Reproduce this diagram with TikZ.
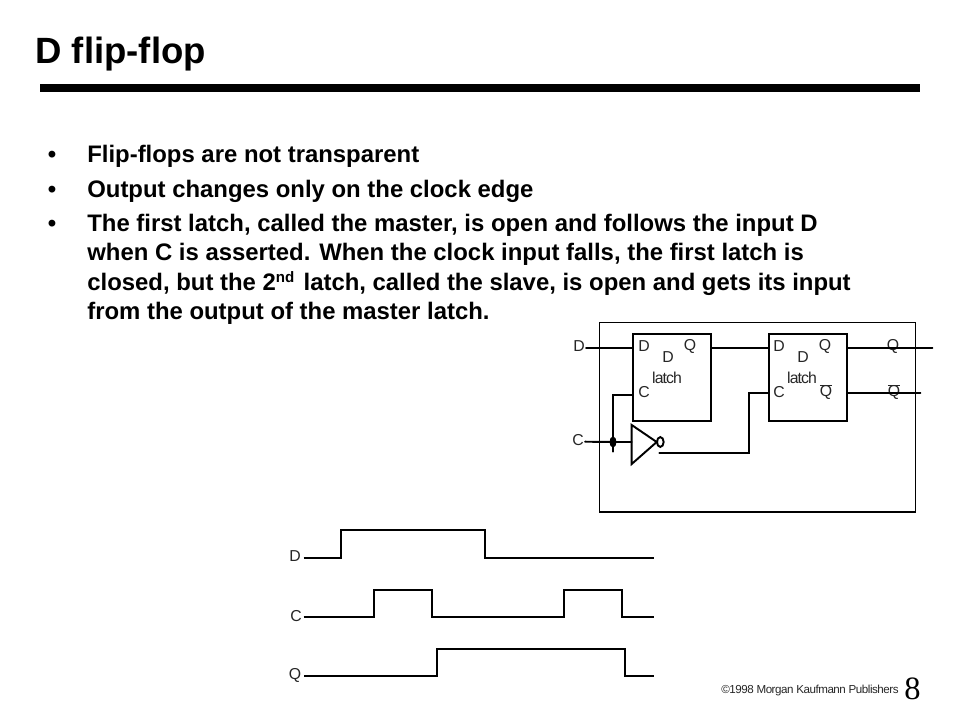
\documentclass[tikz,border=0pt]{standalone}
\usepackage{fontspec}
\setmainfont{Liberation Sans}
\newfontfamily\pagefont{Liberation Serif}
\usetikzlibrary{positioning, calc}
\usetikzlibrary{shapes.geometric}
\newcommand{\barQ}{\makebox[0pt][l]{\rule[6pt]{0.75em}{0.5pt}}Q}
\tikzset{
    wire/.style = {line width = 1.1pt, line cap = round},
    wave/.style = {line width = 1.1pt, line join = miter},
    bodyline/.style = {anchor = base west, inner sep = 0pt, font = \fontsize{13.6}{16}\selectfont\bfseries},
    bulletmark/.style = {anchor = base, inner sep = 0pt, font = \fontsize{13.6}{16}\selectfont\bfseries},
    pinlabel/.style = {inner sep = 0pt, font = \fontsize{9}{10}\selectfont, text = black!85},
    latchbox/.style = {draw, line width = 1.1pt, minimum width = 78pt*0.569, minimum height = 87pt*0.569, inner sep = 0pt}
}
\begin{document}
\begin{tikzpicture}[x = 0.02cm, y = -0.02cm]
                \useasboundingbox (0,0) rectangle (960,720);
                % title
                \node[anchor = base west, inner sep = 0pt, font = \fontsize{20.8}{24}\selectfont\bfseries] (title) at (35,63) {D flip-flop};
                \coordinate (ruleL) at (40,88);
                \coordinate (ruleR) at (920,88);
                \draw[line width = 4.5pt] (ruleL) -- (ruleR);
                % text
                \node[bulletmark] (b1) at (52,162.7) {•};
                \node[bodyline] (t1) at (87,162.7) {Flip-flops are not transparent};
                \node[bulletmark] (b2) at (52,197.7) {•};
                \node[bodyline] (t2) at (87,197.7) {Output changes only on the clock edge};
                \node[bulletmark] (b3) at (52,231.7) {•};
                \node[bodyline] (t3) at (87,231.7) {The first latch, called the master, is open and follows the input D};
                \node[bodyline] (t4) at (87,260.7) {when C is asserted. When the clock input falls, the first latch is};
                \node[bodyline] (t5) at (87,290) {closed, but the 2\raisebox{4.5pt}{\fontsize{8.6}{9}\selectfont nd}\hspace{1.5pt} latch, called the slave, is open and gets its input};
                \node[bodyline] (t6) at (87,319.3) {from the output of the master latch.};
                % circuit
                \node[draw, line width = 0.6pt, minimum width = 316.5pt*0.569, minimum height = 190pt*0.569, inner sep = 0pt] (frame) at (757.75,417) {};
                \node[latchbox] (master) at (672,377.5) {};
                \node[latchbox] (slave) at (808,377.5) {};
                \foreach \name/\xpos in {m/0, s/135}{
                    \node[pinlabel] (\name D) at (644+\xpos,346) {D};
                    \node[pinlabel] (\name Q) at (690+\xpos,346) {Q};
                    \node[pinlabel] (\name C) at (644+\xpos,392.5) {C};
                    \node[pinlabel] (\name T) at (668+\xpos,357) {D};
                    \node[pinlabel, font = \fontsize{9}{10}\selectfont\addfontfeature{LetterSpace=-6}] (\name L) at (667+\xpos,378) {latch};
                }
                \node[pinlabel] (sQbar) at (826,392) {\barQ};
                \node[pinlabel] (inD) at (579,346) {D};
                \node[pinlabel] (inC) at (578,440) {C};
                \node[pinlabel] (outQ) at (893,346) {Q};
                \node[pinlabel] (outQbar) at (894,392) {\barQ};
                \coordinate (endQ) at (932.5,347.7);
                \coordinate (endQbar) at (920.5,393);
                \coordinate (tap) at (613,442);
                \coordinate (tapEnd) at (613,451.7);
                \draw[wire] (inD.east) ++(1,1.7) -- (master.west |- endQ);
                \draw[wire] (master.east |- endQ) -- (slave.west |- endQ);
                \draw[wire] (slave.east |- endQ) -- (endQ);
                \draw[wire] (slave.east |- endQbar) -- (endQbar);
                \draw[wire] (inC.east) ++(1,1.7) -- (tap) -- (631.7,442);
                \draw[wire] (tapEnd) -- (613,395.3) -- (master.west |- 0,395.3);
                \fill (tap) ellipse (3.5 and 5.5);
                % inverter
                \draw[wire, line join = miter] (631.7,425) -- (631.7,464) -- (656.7,442) -- cycle;
                \node[draw, line width = 1.1pt, ellipse, minimum width = 3.8pt, minimum height = 5.6pt, inner sep = 0pt] (bubble) at (660.3,442) {};
                \draw[wire] (659.3,452.7) -- (749.3,452.7) -- (749.3,393.3) -- (slave.west |- 0,393.3);
                % waveforms
                \node[pinlabel] (waveD) at (295,556) {D};
                \node[pinlabel] (waveC) at (296,616) {C};
                \node[pinlabel] (waveQ) at (295,675.5) {Q};
                \draw[wave] (303.5,557.7) -- (341,557.7) -- (341,529.7) -- (485,529.7) -- (485,557.7) -- (653.5,557.7);
                \draw[wave] (303.5,616.7) -- (374,616.7) -- (374,589.7) -- (432,589.7) -- (432,616.7) -- (563.7,616.7) -- (563.7,589.7) -- (621.7,589.7) -- (621.7,616.7) -- (653.5,616.7);
                \draw[wave] (304,675.7) -- (437,675.7) -- (437,648.7) -- (625,648.7) -- (625,675.7) -- (653.5,675.7);
                % footer
                \node[anchor = base east, inner sep = 0pt, font = \fontsize{6.6}{8}\selectfont\addfontfeature{LetterSpace=-4}, text = black!85] (publisher) at (899,693) {©1998 Morgan Kaufmann Publishers};
                \node[anchor = base, inner sep = 0pt, font = \fontsize{18.5}{20}\selectfont\pagefont] (pagenum) at (912.5,699) {8};
            \end{tikzpicture}
\end{document}
